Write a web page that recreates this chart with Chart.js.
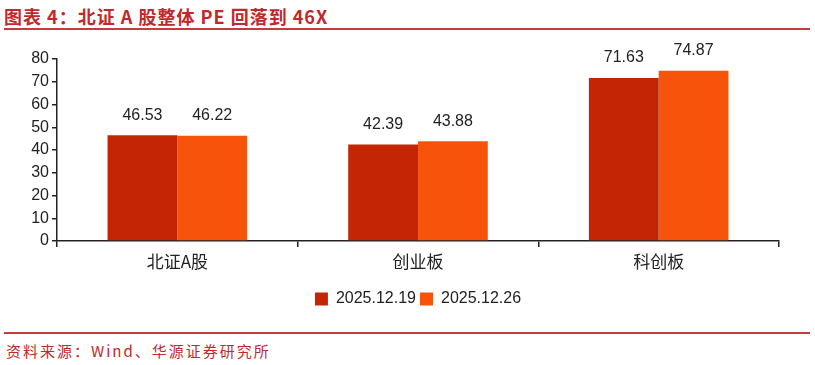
<!DOCTYPE html>
<html>
<head>
<meta charset="utf-8">
<script src="https://cdn.jsdelivr.net/npm/chart.js@4"></script>
<style>
    body{margin:0;width:815px;height:365px;background:#fff;position:relative;overflow:hidden;font-family:"Liberation Sans",Arial,sans-serif;}
    #title{position:absolute;left:4px;top:3px;font-family:"Noto Sans CJK SC",sans-serif;font-weight:bold;font-size:18px;color:#C0282D;letter-spacing:1px;}
    .rule{position:absolute;left:4px;width:806px;height:2px;background:#C8383C;}
    #source{position:absolute;left:6px;top:340px;font-family:"Noto Sans CJK SC",sans-serif;font-size:15px;color:#C0282D;letter-spacing:2px;}
    #wrap{position:absolute;left:0;top:38px;width:815px;height:285px;}
</style>
</head>
<body>
<div id="title">图表 4：北证 A 股整体 PE 回落到 46X</div>
<div class="rule" style="top:28px"></div>
<div id="wrap"><canvas id="dataChart"></canvas></div>
<div class="rule" style="top:332px"></div>
<div id="source">资料来源：Wind、华源证券研究所</div>
<script>
const categories = ["北证A股", "创业板", "科创板"];
const seriesNames = ["2025.12.19", "2025.12.26"];
const valuesDec19 = [46.53, 42.39, 71.63];
const valuesDec26 = [46.22, 43.88, 74.87];
const seriesColors = ["#C42605", "#F8530A"];

// draws the value above each bar
const valueLabels = {
    id: "valueLabels",
    afterDatasetsDraw(chart){
        let ctx = chart.ctx;
        ctx.save();
        ctx.font = "16px 'Liberation Sans', Arial, sans-serif";
        ctx.fillStyle = "#222";
        ctx.textAlign = "center";
        ctx.textBaseline = "bottom";
        chart.data.datasets.forEach((ds, i) => {
            chart.getDatasetMeta(i).data.forEach((bar, j) => {
                ctx.fillText(ds.data[j].toFixed(2), bar.x, bar.y - 12);
            });
        });
        ctx.restore();
    }
};

let ctx = document.getElementById("dataChart").getContext("2d");
new Chart(ctx, {
    type: "bar",
    data: {
        labels: categories,
        datasets: [
            {label: seriesNames[0], data: valuesDec19, backgroundColor: seriesColors[0]},
            {label: seriesNames[1], data: valuesDec26, backgroundColor: seriesColors[1]}
        ]
    },
    options: {
        responsive: true,
        maintainAspectRatio: false,
        animation: false,
        layout: {padding: {left: 0, right: 36, top: 21, bottom: 6}},
        datasets: {bar: {categoryPercentage: 0.58, barPercentage: 1.0}},
        scales: {
            x: {
                offset: true,
                grid: {display: true, offset: true, drawOnChartArea: false, tickLength: 6, color: "#222", lineWidth: 1.5},
                border: {color: "#222", width: 1.5},
                ticks: {color: "#222", font: {size: 17, family: "'Noto Sans CJK SC', sans-serif"}, padding: 4},
                afterFit(scale){ scale.height = 46; }
            },
            y: {
                min: 0, max: 80,
                grid: {drawOnChartArea: false, tickLength: 5, color: "#222", lineWidth: 1.5},
                border: {color: "#222", width: 1.5},
                ticks: {stepSize: 10, color: "#222", font: {size: 16, family: "'Liberation Sans', Arial, sans-serif"}, padding: 3},
                afterFit(scale){ scale.width = 57; }
            }
        },
        plugins: {
            legend: {
                position: "bottom",
                fullSize: false, // centre under the plot area, not the whole canvas
                labels: {color: "#222", font: {size: 16, family: "'Liberation Sans', Arial, sans-serif"}, boxWidth: 13, boxHeight: 13, padding: 4}
            },
            tooltip: {enabled: false}
        }
    },
    plugins: [valueLabels]
});
</script>
</body>
</html>
